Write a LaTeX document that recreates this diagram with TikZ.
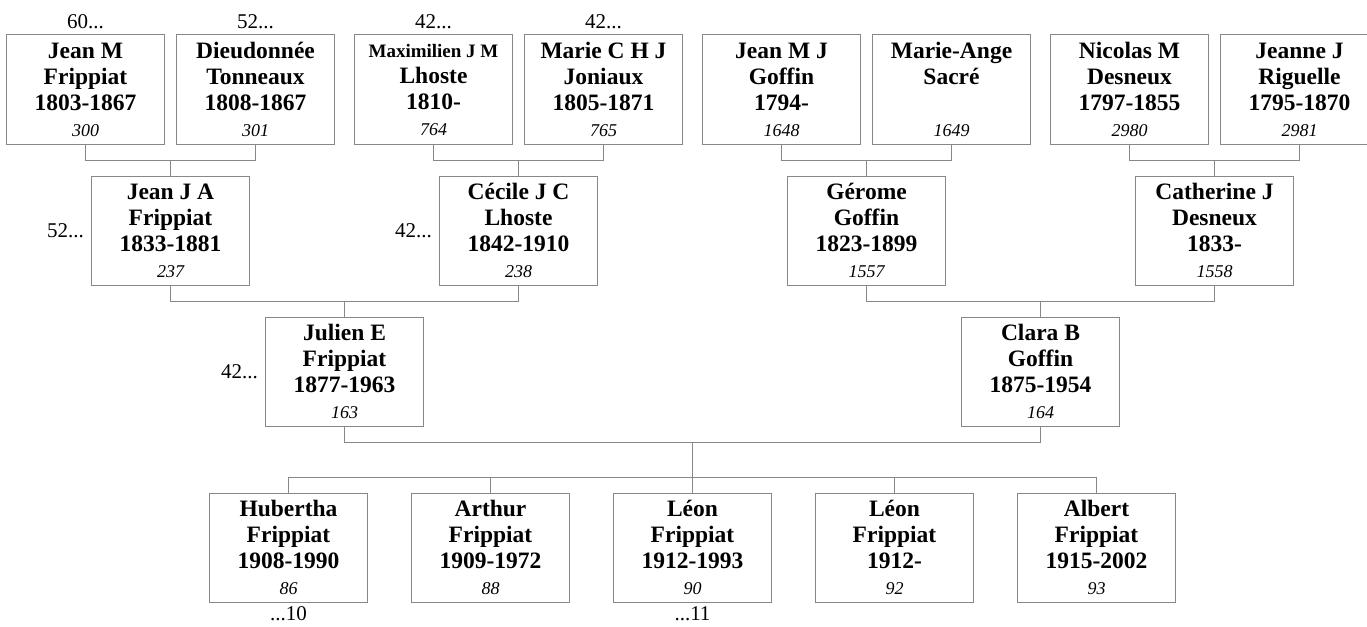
\documentclass[tikz,border=0pt]{standalone}
\usepackage{fontspec}
\setmainfont{Liberation Serif}
\usepackage{tikz}
\usetikzlibrary{positioning,calc}

\definecolor{linegray}{RGB}{136,136,136}
\newcommand{\who}[4]{#1\\#2\\#3\\{\normalfont\fontsize{18}{26}\selectfont\itshape #4}}

\begin{document}
\begin{tikzpicture}[
  person/.style={rectangle, draw=linegray, line width=1pt, minimum width=158pt,
                 minimum height=109pt, inner sep=0pt, align=center,
                 font=\fontsize{23.5}{26}\selectfont\bfseries},
  link/.style={draw=linegray, line width=1pt},
  more/.style={font=\fontsize{21}{24}\selectfont, inner sep=0pt},
  node distance=11pt
]
  \useasboundingbox (0pt,0pt) rectangle (1367pt,-626pt);

  % great-grandparents
  \node[person] (jmf) at (85.5pt,-89.5pt) {\who{Jean M}{Frippiat}{1803-1867}{300}};
  \node[person, right=of jmf] (dto) {\who{Dieudonnée}{Tonneaux}{1808-1867}{301}};
  \node[person, right=19pt of dto] (mxl) {\who{{\fontsize{19}{26}\selectfont Maximilien J M}}{Lhoste}{1810-}{764}};
  \node[person, right=of mxl] (mcj) {\who{Marie C H J}{Joniaux}{1805-1871}{765}};
  \node[person, right=19pt of mcj] (jmg) {\who{Jean M J}{Goffin}{1794-}{1648}};
  \node[person, right=of jmg] (mas) {\who{Marie-Ange}{Sacré}{\mbox{}}{1649}};
  \node[person, right=19pt of mas] (nmd) {\who{Nicolas M}{Desneux}{1797-1855}{2980}};
  \node[person, right=of nmd] (jjr) {\who{Jeanne J}{Riguelle}{1795-1870}{2981}};

  \coordinate (ja) at ($(jmf.south)!.5!(dto.south)+(0,-16pt)$);
  \coordinate (jb) at ($(mxl.south)!.5!(mcj.south)+(0,-16pt)$);
  \coordinate (jc) at ($(jmg.south)!.5!(mas.south)+(0,-16pt)$);
  \coordinate (jd) at ($(nmd.south)!.5!(jjr.south)+(0,-16pt)$);

  % grandparents
  \node[person, below=15pt of ja] (jja) {\who{Jean J A}{Frippiat}{1833-1881}{237}};
  \node[person, below=15pt of jb] (cjl) {\who{Cécile J C}{Lhoste}{1842-1910}{238}};
  \node[person, below=15pt of jc] (ggo) {\who{Gérome}{Goffin}{1823-1899}{1557}};
  \node[person, below=15pt of jd] (cjd) {\who{Catherine J}{Desneux}{1833-}{1558}};

  \coordinate (je) at ($(jja.south)!.5!(cjl.south)+(0,-16pt)$);
  \coordinate (jf) at ($(ggo.south)!.5!(cjd.south)+(0,-16pt)$);

  % parents
  \node[person, below=15pt of je] (jef) {\who{Julien E}{Frippiat}{1877-1963}{163}};
  \node[person, below=15pt of jf] (cbg) {\who{Clara B}{Goffin}{1875-1954}{164}};

  \coordinate (jg) at ($(jef.south)!.5!(cbg.south)+(0,-16pt)$);
  \coordinate (jh) at ($(jg)+(0,-35pt)$);

  % children
  \node[person, below=50pt of jg] (lfa) {\who{Léon}{Frippiat}{1912-1993}{90}};
  \node[person, left=43pt of lfa] (afr) {\who{Arthur}{Frippiat}{1909-1972}{88}};
  \node[person, left=43pt of afr] (hbf) {\who{Hubertha}{Frippiat}{1908-1990}{86}};
  \node[person, right=43pt of lfa] (lfb) {\who{Léon}{Frippiat}{1912-}{92}};
  \node[person, right=43pt of lfb] (abf) {\who{Albert}{Frippiat}{1915-2002}{93}};

  % more generations
  \node[more, above=6pt of jmf] (m1) {60...};
  \node[more, above=6pt of dto] (m2) {52...};
  \node[more, above=6pt of mxl] (m3) {42...};
  \node[more, above=6pt of mcj] (m4) {42...};
  \node[more, left=7pt of jja] (m5) {52...};
  \node[more, left=7pt of cjl] (m6) {42...};
  \node[more, left=7pt of jef] (m7) {42...};
  \node[more, below=4pt of hbf] (m8) {...10};
  \node[more, below=4pt of lfa] (m9) {...11};

  % links
  \draw[link] (jmf.south) |- (ja) -| (dto.south);
  \draw[link] (mxl.south) |- (jb) -| (mcj.south);
  \draw[link] (jmg.south) |- (jc) -| (mas.south);
  \draw[link] (nmd.south) |- (jd) -| (jjr.south);
  \draw[link] (ja) -- (jja.north);
  \draw[link] (jb) -- (cjl.north);
  \draw[link] (jc) -- (ggo.north);
  \draw[link] (jd) -- (cjd.north);
  \draw[link] (jja.south) |- (je) -| (cjl.south);
  \draw[link] (ggo.south) |- (jf) -| (cjd.south);
  \draw[link] (je) -- (jef.north);
  \draw[link] (jf) -- (cbg.north);
  \draw[link] (jef.south) |- (jg) -| (cbg.south);
  \draw[link] (jg) -- (jh);
  \draw[link] (hbf.north) |- (jh) -| (abf.north);
  \draw[link] (afr.north) |- (jh);
  \draw[link] (lfa.north) -- (jh);
  \draw[link] (lfb.north) |- (jh);
\end{tikzpicture}
\end{document}
